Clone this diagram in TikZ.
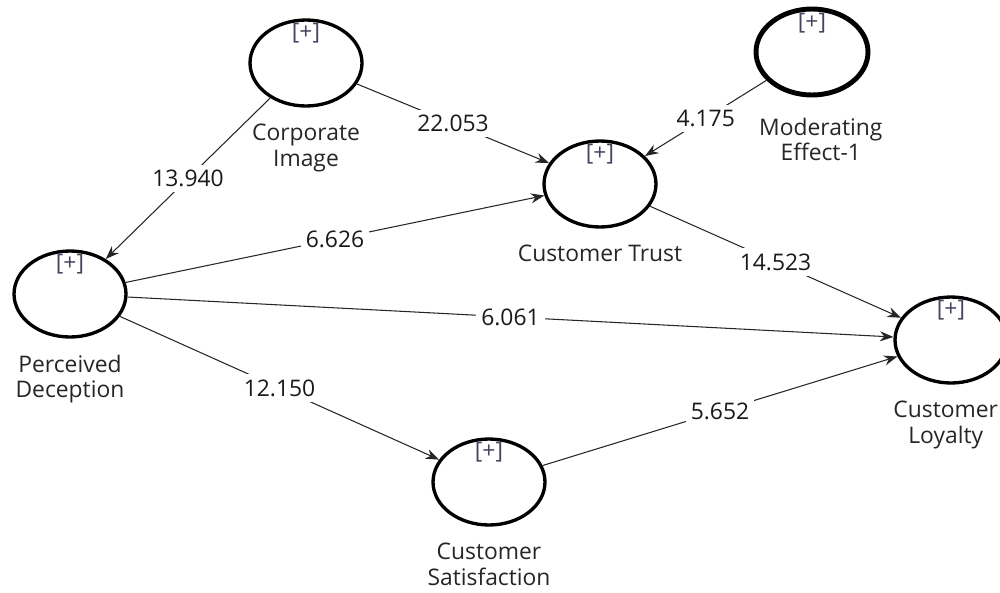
\documentclass[tikz,border=0pt]{standalone}
\usepackage{fontspec}
\setmainfont{Open Sans}
\usetikzlibrary{arrows.meta,shapes.geometric,positioning}

\begin{document}
\begin{tikzpicture}[x=0.02cm, y=-0.02cm, >={Stealth[length=2.7mm,width=2mm]}, node distance=3.2mm,
    every node/.style={font=\fontsize{13}{14.5}\selectfont},
    construct/.style={ellipse, draw, line width=1.9pt, minimum width=2.24cm, minimum height=1.72cm, inner sep=0pt},
    cname/.style={align=center, inner sep=0pt, text=black!85},
    plus/.style={text={rgb,255:red,75;green,65;blue,95}, inner sep=0pt, yshift=-8.5pt},
    link/.style={->, line width=0.6pt, draw=black!85},
    weight/.style={fill=white, inner sep=3pt, text=black!90}]
    \useasboundingbox (0,0) rectangle (1000,592);

    % Constructs
    \node (pd) [construct] at (70,294) {};
    \node (ci) [construct] at (306,63) {};
    \node (mod) [construct, line width=2.8pt] at (812,52) {};
    \node (ct) [construct] at (600,184) {};
    \node (cs) [construct] at (489,482) {};
    \node (cl) [construct] at (951,340) {};

    % [+] marks
    \node (pdplus) [plus] at (pd.north) {[+]};
    \node (ciplus) [plus] at (ci.north) {[+]};
    \node (modplus) [plus, yshift=-1pt] at (mod.north) {[+]};
    \node (ctplus) [plus] at (ct.north) {[+]};
    \node (csplus) [plus] at (cs.north) {[+]};
    \node (clplus) [plus] at (cl.north) {[+]};

    % Names
    \node (pdname) [cname, below=of pd] {Perceived\\Deception};
    \node (ciname) [cname, below=of ci] {Corporate\\Image};
    \node (modname) [cname, below=4mm of mod, xshift=5pt] {Moderating\\Effect-1};
    \node (ctname) [cname, below=of ct] {Customer Trust};
    \node (csname) [cname, below=of cs] {Customer\\Satisfaction};
    \node (clname) [cname, below=of cl, xshift=-3pt] {Customer\\Loyalty};

    % Path coefficients
    \draw[link] (ci) -- node[weight] {13.940} (pd);
    \draw[link] (ci) -- node[weight] {22.053} (ct);
    \draw[link] (mod) -- node[weight] {4.175} (ct);
    \draw[link] (pd) -- node[weight] {6.626} (ct);
    \draw[link] (pd) -- node[weight] {6.061} (cl);
    \draw[link] (pd) -- node[weight] {12.150} (cs);
    \draw[link] (ct) -- node[weight] {14.523} (cl);
    \draw[link] (cs) -- node[weight] {5.652} (cl);

\end{tikzpicture}
\end{document}
